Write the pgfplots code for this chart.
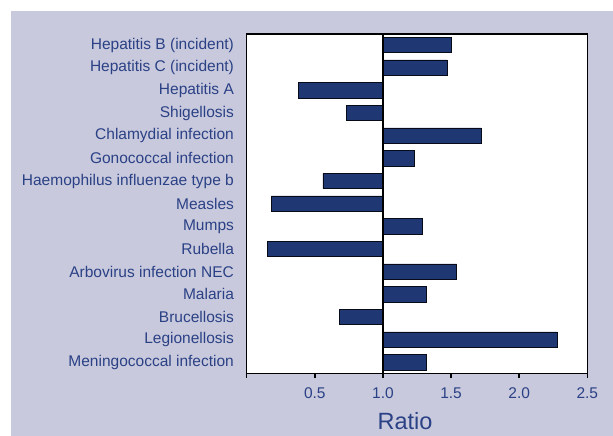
\documentclass[border=0pt]{standalone}
\usepackage{pgfplots}
\pgfplotsset{compat=1.18}
\usepackage{pgfplotstable}
\usepackage{fontspec}
\setmainfont{Liberation Sans}
\definecolor{lav}{HTML}{C9C9DD}
\definecolor{navy}{HTML}{1F3773}
\definecolor{txt}{HTML}{2A4185}
\pgfplotstableread{
y v
0 1.50
1 1.47
2 0.38
3 0.73
4 1.72
5 1.23
6 0.56
7 0.18
8 1.29
9 0.15
10 1.54
11 1.32
12 0.68
13 2.28
14 1.32
}\ratiodata
\begin{document}
\begin{tikzpicture}
\useasboundingbox (0,0) rectangle (613bp,-436bp);
\fill[lav] (11bp,-11bp) rectangle (613bp,-436bp);
\begin{axis}[
  at={(246.7bp,-373.7bp)}, anchor=south west,
  scale only axis, width=340.6bp, height=340bp,
  clip=false,
  axis background/.style={fill=white},
  x coord trafo/.code={\pgfmathparse{#1-1}},
  x coord inv trafo/.code={\pgfmathparse{#1+1}},
  xmin=0, xmax=2.5,
  ymin=-0.5, ymax=14.5, y dir=reverse,
  ytick={0,...,14},
  yticklabels={Hepatitis B (incident),Hepatitis C (incident),Hepatitis A\hspace{1.6bp},Shigellosis\hspace{1.6bp},Chlamydial infection,Gonococcal infection,Haemophilus influenzae type b,Measles\hspace{1.6bp},Mumps\hspace{1.6bp},Rubella\hspace{1.6bp},Arbovirus infection NEC,Malaria\hspace{1.6bp},Brucellosis\hspace{1.6bp},Legionellosis\hspace{1.6bp},Meningococcal infection},
  xtick={0,0.5,1,1.5,2,2.5},
  xticklabels={,0.5,1.0,1.5,2.0,2.5},
  ytick style={draw=none},
  xtick style={black, line width=1.5bp},
  major tick length=4bp,
  tick align=outside,
  xtick pos=bottom,
  axis line style={black, line width=0.8bp},
  /pgf/number format/assume math mode=true,
  ticklabel style={font=\fontsize{15.5bp}{18bp}\selectfont, text=txt},
  yticklabel style={anchor=east, inner sep=0pt, xshift=-8.6bp},
  xticklabel style={anchor=north, inner sep=0pt, yshift=-9.5bp},
  xlabel={Ratio},
  xlabel style={font=\fontsize{23.5bp}{26bp}\selectfont, text=txt, at={(rel axis cs:0.465,0)}, anchor=base, yshift=-55.3bp},
]
\addplot[xbar, bar width=15.5bp, bar shift=0pt, fill=navy, draw=black!80!navy, line width=0.8bp] table[x=v,y=y]{\ratiodata};
\draw[black, line width=2.3bp] (axis cs:1,-0.5) -- (axis cs:1,14.5);
\draw[black, line width=2.4bp] (rel axis cs:0,1) -- (rel axis cs:1,1);
\end{axis}
\end{tikzpicture}
\end{document}
